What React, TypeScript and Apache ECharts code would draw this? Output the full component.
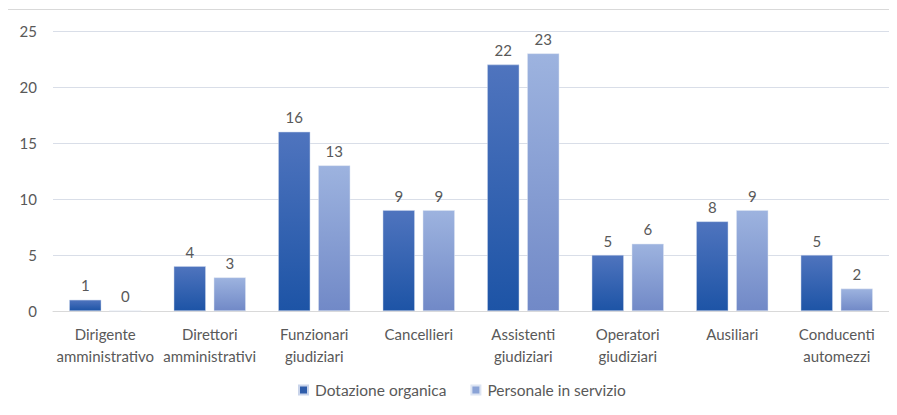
import React, { useEffect, useRef } from "react";
import * as echarts from "echarts";

const categories = [
  "Dirigente\namministrativo",
  "Direttori\namministrativi",
  "Funzionari\ngiudiziari",
  "Cancellieri",
  "Assistenti\ngiudiziari",
  "Operatori\ngiudiziari",
  "Ausiliari",
  "Conducenti\nautomezzi",
];
const dotazione = [1, 4, 16, 9, 22, 5, 8, 5];
const personale = [0, 3, 13, 9, 23, 6, 9, 2];
const seriesNames = ["Dotazione organica", "Personale in servizio"];

const FONT = "Lato, 'Open Sans', sans-serif";
const TXT = "#595959";

export default function App() {
  const ref = useRef<HTMLDivElement>(null);
  useEffect(() => {
    if (!ref.current) return;
    const chart = echarts.init(ref.current, undefined, { renderer: "svg" });
    const grad = (a: string, b: string) =>
      new echarts.graphic.LinearGradient(0, 0, 0, 1, [
        { offset: 0, color: a },
        { offset: 1, color: b },
      ]);
    chart.setOption({
      animation: false,
      backgroundColor: "#fff",
      textStyle: { fontFamily: FONT },
      graphic: [
        {
          type: "rect",
          shape: { x: 7.5, y: 9.5, width: 895, height: 420 },
          style: { fill: "none", stroke: "#D9D9D9", lineWidth: 1 },
          silent: true,
        },
      ],
      grid: { left: 53, right: 8, top: 31, bottom: 104 },
      legend: {
        bottom: 12,
        left: 293,
        itemWidth: 9,
        itemHeight: 9,
        itemGap: 24,
        icon: "rect",
        textStyle: {
          color: TXT,
          fontSize: 15.5,
          fontFamily: FONT,
          padding: [0, 0, 0, 2],
        },
        data: [
          { name: seriesNames[0], itemStyle: { color: "#2F5DAA" } },
          { name: seriesNames[1], itemStyle: { color: "#8AA3D6" } },
        ],
      },
      xAxis: {
        type: "category",
        data: categories,
        axisLine: { lineStyle: { color: "#D9D9D9" } },
        axisTick: { show: false },
        axisLabel: {
          color: TXT,
          fontSize: 15,
          fontFamily: FONT,
          lineHeight: 22,
          margin: 12,
          interval: 0,
        },
      },
      yAxis: {
        type: "value",
        min: 0,
        max: 25,
        interval: 5,
        axisLine: { show: false },
        axisTick: { show: false },
        splitLine: { lineStyle: { color: "#D9DEE8" } },
        axisLabel: { color: TXT, fontSize: 15, fontFamily: FONT, margin: 16 },
      },
      series: [
        {
          name: seriesNames[0],
          type: "bar",
          data: dotazione,
          barWidth: 32,
          barGap: "25%",
          itemStyle: {
            color: grad("#4F74BE", "#1D54A6"),
            borderColor: "#C9D4EA",
            borderWidth: 0.5,
          },
          label: {
            show: true,
            position: "top",
            distance: 7,
            color: TXT,
            fontSize: 15,
            fontFamily: FONT,
          },
        },
        {
          name: seriesNames[1],
          type: "bar",
          data: personale,
          barWidth: 32,
          itemStyle: {
            color: grad("#9DB3DF", "#7189C7"),
            borderColor: "#DCE4F2",
            borderWidth: 0.5,
          },
          label: {
            show: true,
            position: "top",
            distance: 7,
            color: TXT,
            fontSize: 15,
            fontFamily: FONT,
          },
        },
      ],
    });
    return () => chart.dispose();
  }, []);
  return <div ref={ref} style={{ width: 897, height: 415, margin: -8 }} />;
}
